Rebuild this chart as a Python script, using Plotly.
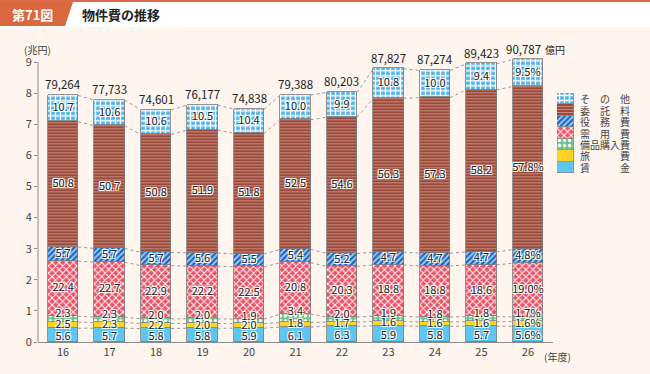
import plotly.graph_objects as go

# ---- data ----
years = ["16", "17", "18", "19", "20", "21", "22", "23", "24", "25", "26"]
totals = [79264, 77733, 74601, 76177, 74838, 79388, 80203, 87827, 87274, 89423, 90787]  # 億円
chingin = [5.6, 5.7, 5.8, 5.8, 5.9, 6.1, 6.3, 5.9, 5.8, 5.7, 5.6]
ryohi = [2.5, 2.3, 2.2, 2.0, 2.0, 1.8, 1.7, 1.6, 1.6, 1.6, 1.6]
bihin = [2.3, 2.3, 2.0, 2.0, 1.9, 3.4, 2.0, 1.9, 1.8, 1.8, 1.7]
juyo = [22.4, 22.7, 22.9, 22.2, 22.5, 20.8, 20.3, 18.8, 18.8, 18.6, 19.0]
ekimu = [5.7, 5.7, 5.7, 5.6, 5.5, 5.4, 5.2, 4.7, 4.7, 4.7, 4.8]
itaku = [50.8, 50.7, 50.8, 51.9, 51.8, 52.5, 54.6, 56.3, 57.3, 58.2, 57.8]
sonota = [10.7, 10.6, 10.6, 10.5, 10.4, 10.0, 9.9, 10.8, 10.0, 9.4, 9.5]
series_names = ["賃金", "旅費", "備品購入費", "需用費", "役務費", "委託料", "その他"]
legend_labels = ["賃　　　金", "旅　　　費", "備品購入費", "需　用　費", "役　務　費", "委　託　料", "そ　の　他"]
y_ticks = [0, 1, 2, 3, 4, 5, 6, 7, 8, 9]

series = [chingin, ryohi, bihin, juyo, ekimu, itaku, sonota]

# ---- styles ----
FONT = "Noto Sans CJK JP"
styles = [
    dict(color="#5ec6f2", pattern=None),
    dict(color="#ffd324", pattern=None),
    dict(color="#6ec48f", pattern=dict(shape=".", fgcolor="#ffffff", size=5, solidity=0.35, fillmode="overlay", fgopacity=1)),
    dict(color="#ea5468", pattern=dict(shape="x", fgcolor="#ffffff", size=5, solidity=0.35, fillmode="overlay", fgopacity=1)),
    dict(color="#2266c2", pattern=dict(shape="/", fgcolor="#a9d8f6", size=4, solidity=0.4, fillmode="overlay", fgopacity=1)),
    dict(color="#9a4a3a", pattern=dict(shape="-", fgcolor="#c98a7c", size=3, solidity=0.35, fillmode="overlay", fgopacity=1)),
    dict(color="#4fb3ea", pattern=dict(shape="+", fgcolor="#ffffff", size=5, solidity=0.45, fillmode="overlay", fgopacity=1)),
]
# small offsets (in 兆円) for labels of the thin bottom segments
label_shift = [-0.08, 0.0, None, 0.0, 0.0, 0.0, 0.0]

W, H = 650, 374
PL, PR, PT, PB = 38, 640, 40, 342
Y0_PX, Y9_PX = 342, 62          # pixel rows of y=0 and y=9
YMAX = 9.6                      # headroom so top labels stay visible
UNIT = (Y0_PX - Y9_PX) / 9


def px_x(px):
    return (px - PL) / (PR - PL)


def px_y(py):
    return (PB - py) / (PB - PT)


n = len(years)
xs = list(range(n))
BW = 0.65

# heights in 兆円
heights = []
for s in series:
    heights.append([totals[i] / 10000 * s[i] / sum(ser[i] for ser in series) for i in range(n)])

fig = go.Figure()

for k, (name, st) in enumerate(zip(series_names, styles)):
    marker = dict(color=st["color"], line=dict(color="#7a7a7a", width=0.8))
    if st["pattern"]:
        marker["pattern"] = st["pattern"]
    fig.add_trace(go.Bar(x=xs, y=heights[k], width=BW, name=name, marker=marker,
                         showlegend=False, hoverinfo="skip"))

# dotted connector lines at each boundary
cum = [0.0] * n
for k in range(len(series)):
    cum = [cum[i] + heights[k][i] for i in range(n)]
    lx, ly = [], []
    for i in range(n - 1):
        lx += [xs[i] + BW / 2, xs[i + 1] - BW / 2, None]
        ly += [cum[i], cum[i + 1], None]
    fig.add_trace(go.Scatter(x=lx, y=ly, mode="lines", line=dict(color="#9a9a9a", width=1, dash="dot"),
                             showlegend=False, hoverinfo="skip", cliponaxis=False))

# segment labels
halo = "1px 1px 0px #fff, -1px -1px 0px #fff, 1px -1px 0px #fff, -1px 1px 0px #fff"
tx, ty, tt = [], [], []
base = [0.0] * n
for k, s in enumerate(series):
    for i in range(n):
        tx.append(xs[i])
        if label_shift[k] is None:
            ty.append(base[i] + heights[k][i] + 0.07)
        else:
            ty.append(base[i] + heights[k][i] / 2 + label_shift[k])
        tt.append(f"{s[i]:.1f}" + ("%" if i == n - 1 else ""))
    base = [base[i] + heights[k][i] for i in range(n)]
fig.add_trace(go.Scatter(x=tx, y=ty, text=tt, mode="text", cliponaxis=False,
                         textfont=dict(family=FONT, size=11, color="#222", shadow=halo),
                         showlegend=False, hoverinfo="skip"))

# legend swatches (on secondary axes)
for k, st in enumerate(styles):
    marker = dict(color=st["color"], line=dict(color="#8a8a8a", width=0.8))
    if st["pattern"]:
        marker["pattern"] = st["pattern"]
    fig.add_trace(go.Bar(x=[0], y=[1], width=1, marker=marker, xaxis="x2", yaxis="y2",
                         showlegend=False, hoverinfo="skip"))

annotations = []
# totals above bars
for i in range(n):
    annotations.append(dict(x=xs[i], y=totals[i] / 10000, xref="x", yref="y", text=f"{totals[i]:,}",
                            showarrow=False, xanchor="center", yanchor="bottom", yshift=1,
                            xshift=(-4 if i == n - 1 else 0),
                            font=dict(family=FONT, size=11.5, color="#222")))
annotations.append(dict(x=xs[-1], y=totals[-1] / 10000, xref="x", yref="y", text="億円",
                        showarrow=False, xanchor="left", yanchor="bottom", yshift=1, xshift=15,
                        font=dict(family=FONT, size=10, color="#222")))

for k, lab in enumerate(legend_labels):
    annotations.append(dict(x=px_x(578), y=k + 0.5, xref="paper", yref="y2", text=lab,
                            showarrow=False, xanchor="left", yanchor="middle",
                            font=dict(family=FONT, size=10, color="#444")))

annotations += [
    dict(x=px_x(37), y=px_y(49), xref="paper", yref="paper", text="(兆円)", showarrow=False,
         xanchor="center", yanchor="middle", font=dict(family=FONT, size=10, color="#444")),
    dict(x=px_x(542), y=px_y(356), xref="paper", yref="paper", text="(年度)", showarrow=False,
         xanchor="left", yanchor="middle", font=dict(family=FONT, size=10, color="#444")),
    dict(x=px_x(32), y=px_y(14), xref="paper", yref="paper", text="<b>第71図</b>", showarrow=False,
         xanchor="center", yanchor="middle", font=dict(family=FONT, size=13, color="#ffffff")),
    dict(x=px_x(80), y=px_y(14), xref="paper", yref="paper", text="<b>物件費の推移</b>", showarrow=False,
         xanchor="left", yanchor="middle", font=dict(family=FONT, size=13, color="#222")),
]

shapes = [
    dict(type="rect", xref="paper", yref="paper", x0=px_x(0), x1=px_x(W), y0=px_y(27), y1=px_y(0),
         fillcolor="#ffffff", line=dict(width=0), layer="below"),
    dict(type="rect", xref="paper", yref="paper", x0=px_x(0), x1=px_x(W), y0=px_y(2), y1=px_y(0),
         fillcolor="#dc6a48", line=dict(width=0), layer="below"),
    dict(type="path", xref="paper", yref="paper",
         path=f"M {px_x(0)},{px_y(2)} L {px_x(73)},{px_y(2)} L {px_x(65)},{px_y(26)} L {px_x(0)},{px_y(26)} Z",
         fillcolor="#d9683f", line=dict(width=0), layer="below"),
    # y-axis line from 0 to 9
    dict(type="line", xref="paper", yref="y", x0=0, x1=0, y0=0, y1=y_ticks[-1],
         line=dict(color="#8a8a8a", width=1)),
]

fig.update_layout(
    width=W, height=H,
    margin=dict(l=PL, r=W - PR, t=PT, b=H - PB),
    paper_bgcolor="#fdf5ee", plot_bgcolor="rgba(0,0,0,0)",
    barmode="stack", bargap=0,
    font=dict(family=FONT, size=11, color="#444"),
    xaxis=dict(domain=[0, px_x(553)], range=[-0.54, n - 1 + 0.54], tickmode="array", tickvals=xs,
               ticktext=years, showgrid=False, zeroline=False, showline=True, linecolor="#8a8a8a",
               linewidth=1, ticks="", tickfont=dict(size=11, color="#444")),
    yaxis=dict(domain=[0, px_y(Y9_PX - (YMAX - 9) * UNIT)], range=[0, YMAX], tickvals=y_ticks,
               showgrid=False, zeroline=False, showline=False, ticks="outside", ticklen=3,
               tickcolor="#8a8a8a", tickfont=dict(size=11, color="#444")),
    xaxis2=dict(domain=[px_x(557), px_x(574)], range=[-0.5, 0.5], visible=False, anchor="y2"),
    yaxis2=dict(domain=[px_y(173), px_y(93)], range=[0, 7], visible=False, anchor="x2"),
    annotations=annotations,
    shapes=shapes,
)

fig.write_html("out.html", config={"displayModeBar": False},
               post_script="document.body.style.margin='0';document.body.style.padding='0';")
